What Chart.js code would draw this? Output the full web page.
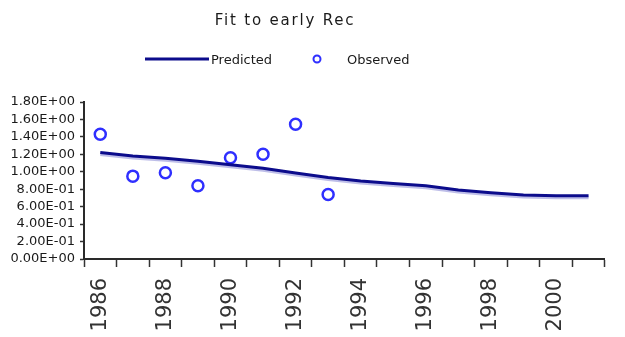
<!DOCTYPE html>
<html>
<head>
<meta charset="utf-8">
<title>Fit to early Rec</title>
<script src="https://cdn.jsdelivr.net/npm/chart.js@4/dist/chart.umd.min.js"></script>
<style>
  html, body { margin: 0; padding: 0; background: #ffffff; }
  #wrap { width: 625px; height: 337px; }
</style>
</head>
<body>
<div id="wrap"><canvas id="fit" width="625" height="337"></canvas></div>
<script>
// Recruitment fit: model prediction vs early observations
const years = ['1986', '1987', '1988', '1989', '1990', '1991', '1992', '1993',
               '1994', '1995', '1996', '1997', '1998', '1999', '2000', '2001'];
const predicted = [1.22, 1.18, 1.155, 1.12, 1.08, 1.04, 0.985, 0.935,
                   0.895, 0.865, 0.84, 0.79, 0.76, 0.735, 0.725, 0.725];
const observed = [1.43, 0.95, 0.99, 0.84, 1.16, 1.20, 1.545, 0.74,
                  null, null, null, null, null, null, null, null];
const yTickValues = [0, 0.2, 0.4, 0.6, 0.8, 1.0, 1.2, 1.4, 1.6, 1.8];
const chartTitle = 'Fit to early Rec';

// Excel-style scientific notation, e.g. 1.80E+00 / 8.00E-01
function sci(v) {
  const parts = Number(v).toExponential(2).split('e');
  const n = parseInt(parts[1], 10);
  return parts[0] + 'E' + (n < 0 ? '-' : '+') + String(Math.abs(n)).padStart(2, '0');
}

// soft under-shade beneath the prediction line
const lineShade = {
  id: 'lineShade',
  beforeDatasetDraw(chart, args, opts) {
    if (args.index !== 0) return;
    const c = chart.ctx;
    c.save();
    c.shadowColor = opts.color;
    c.shadowOffsetX = 0;
    c.shadowOffsetY = opts.offsetY;
    c.shadowBlur = opts.blur;
  },
  afterDatasetDraw(chart, args) {
    if (args.index === 0) chart.ctx.restore();
  }
};

// title and a one-line key above the plot
const headerKey = {
  id: 'headerKey',
  afterDraw(chart, args, o) {
    const ctx = chart.ctx;
    const [line, pts] = chart.data.datasets;
    ctx.save();
    ctx.fillStyle = o.color;
    ctx.textBaseline = 'alphabetic';

    ctx.font = o.titleFont;
    if ('letterSpacing' in ctx) ctx.letterSpacing = o.titleSpacing;
    ctx.textAlign = 'center';
    ctx.fillText(o.title, o.titleX, o.titleY);
    if ('letterSpacing' in ctx) ctx.letterSpacing = '0px';

    // line sample
    ctx.strokeStyle = line.borderColor;
    ctx.lineWidth = line.borderWidth;
    ctx.beginPath();
    ctx.moveTo(o.lineFrom, o.keyY);
    ctx.lineTo(o.lineTo, o.keyY);
    ctx.stroke();

    ctx.font = o.keyFont;
    ctx.textAlign = 'left';
    ctx.fillText(line.label, o.lineTo + 2, o.keyBase);

    // marker sample
    ctx.fillStyle = pts.pointBackgroundColor;
    ctx.strokeStyle = pts.pointBorderColor;
    ctx.lineWidth = 2;
    ctx.beginPath();
    ctx.arc(o.markerX, o.keyY, 3.5, 0, Math.PI * 2);
    ctx.fill();
    ctx.stroke();

    ctx.fillStyle = o.color;
    ctx.fillText(pts.label, o.markerTextX, o.keyBase);
    ctx.restore();
  }
};

Chart.defaults.font.family = "'DejaVu Sans', 'Liberation Sans', sans-serif";
Chart.defaults.color = '#222222';

new Chart(document.getElementById('fit'), {
  type: 'line',
  data: {
    labels: years,
    datasets: [
      {
        label: 'Predicted',
        data: predicted,
        borderColor: '#0c0c8c',
        borderWidth: 3,
        pointRadius: 0,
        tension: 0,
        fill: false
      },
      {
        label: 'Observed',
        data: observed,
        showLine: false,
        pointStyle: 'circle',
        pointRadius: 5.5,
        pointBorderWidth: 2.5,
        pointBorderColor: '#2f2fff',
        pointBackgroundColor: '#ffffff',
        borderColor: '#2f2fff',
        backgroundColor: '#ffffff'
      }
    ]
  },
  options: {
    responsive: false,
    animation: false,
    layout: { padding: { top: 102, right: 8, bottom: 0, left: 0 } },
    plugins: {
      legend: { display: false },
      title: { display: false },
      tooltip: { enabled: false },
      lineShade: { color: 'rgba(70,70,190,0.35)', offsetY: 2, blur: 0 },
      headerKey: {
        title: chartTitle,
        color: '#1a1a1a',
        titleFont: "15px 'DejaVu Sans'",
        titleSpacing: '1.8px',
        titleX: 285,
        titleY: 25,
        keyFont: "13px 'DejaVu Sans'",
        keyY: 59,
        keyBase: 64,
        lineFrom: 145,
        lineTo: 209,
        markerX: 317,
        markerTextX: 347
      }
    },
    scales: {
      x: {
        type: 'category',
        offset: true,
        afterFit(scale) { scale.height = 78; },
        grid: {
          offset: true,
          drawOnChartArea: false,
          drawTicks: true,
          tickLength: 8,
          tickWidth: 1.5,
          tickColor: '#333333'
        },
        border: { display: true, color: '#2a2a2a', width: 2 },
        ticks: {
          autoSkip: false,
          minRotation: 90,
          maxRotation: 90,
          padding: 11,
          color: '#333333',
          font: { size: 21 },
          callback(value, index) {
            const y = years[index];
            return Number(y) % 2 === 0 ? y : '';
          }
        }
      },
      y: {
        min: 0,
        max: 1.8,
        afterFit(scale) { scale.width = 84; },
        afterBuildTicks(scale) {
          scale.ticks = yTickValues.map(v => ({ value: v }));
        },
        grid: {
          drawOnChartArea: false,
          drawTicks: true,
          tickLength: 4,
          tickWidth: 1.5,
          tickColor: '#333333'
        },
        border: { display: true, color: '#2a2a2a', width: 2 },
        ticks: {
          autoSkip: false,
          padding: 5,
          color: '#1a1a1a',
          font: { size: 13 },
          callback(value) { return sci(value); }
        }
      }
    }
  },
  plugins: [lineShade, headerKey]
});
</script>
</body>
</html>
